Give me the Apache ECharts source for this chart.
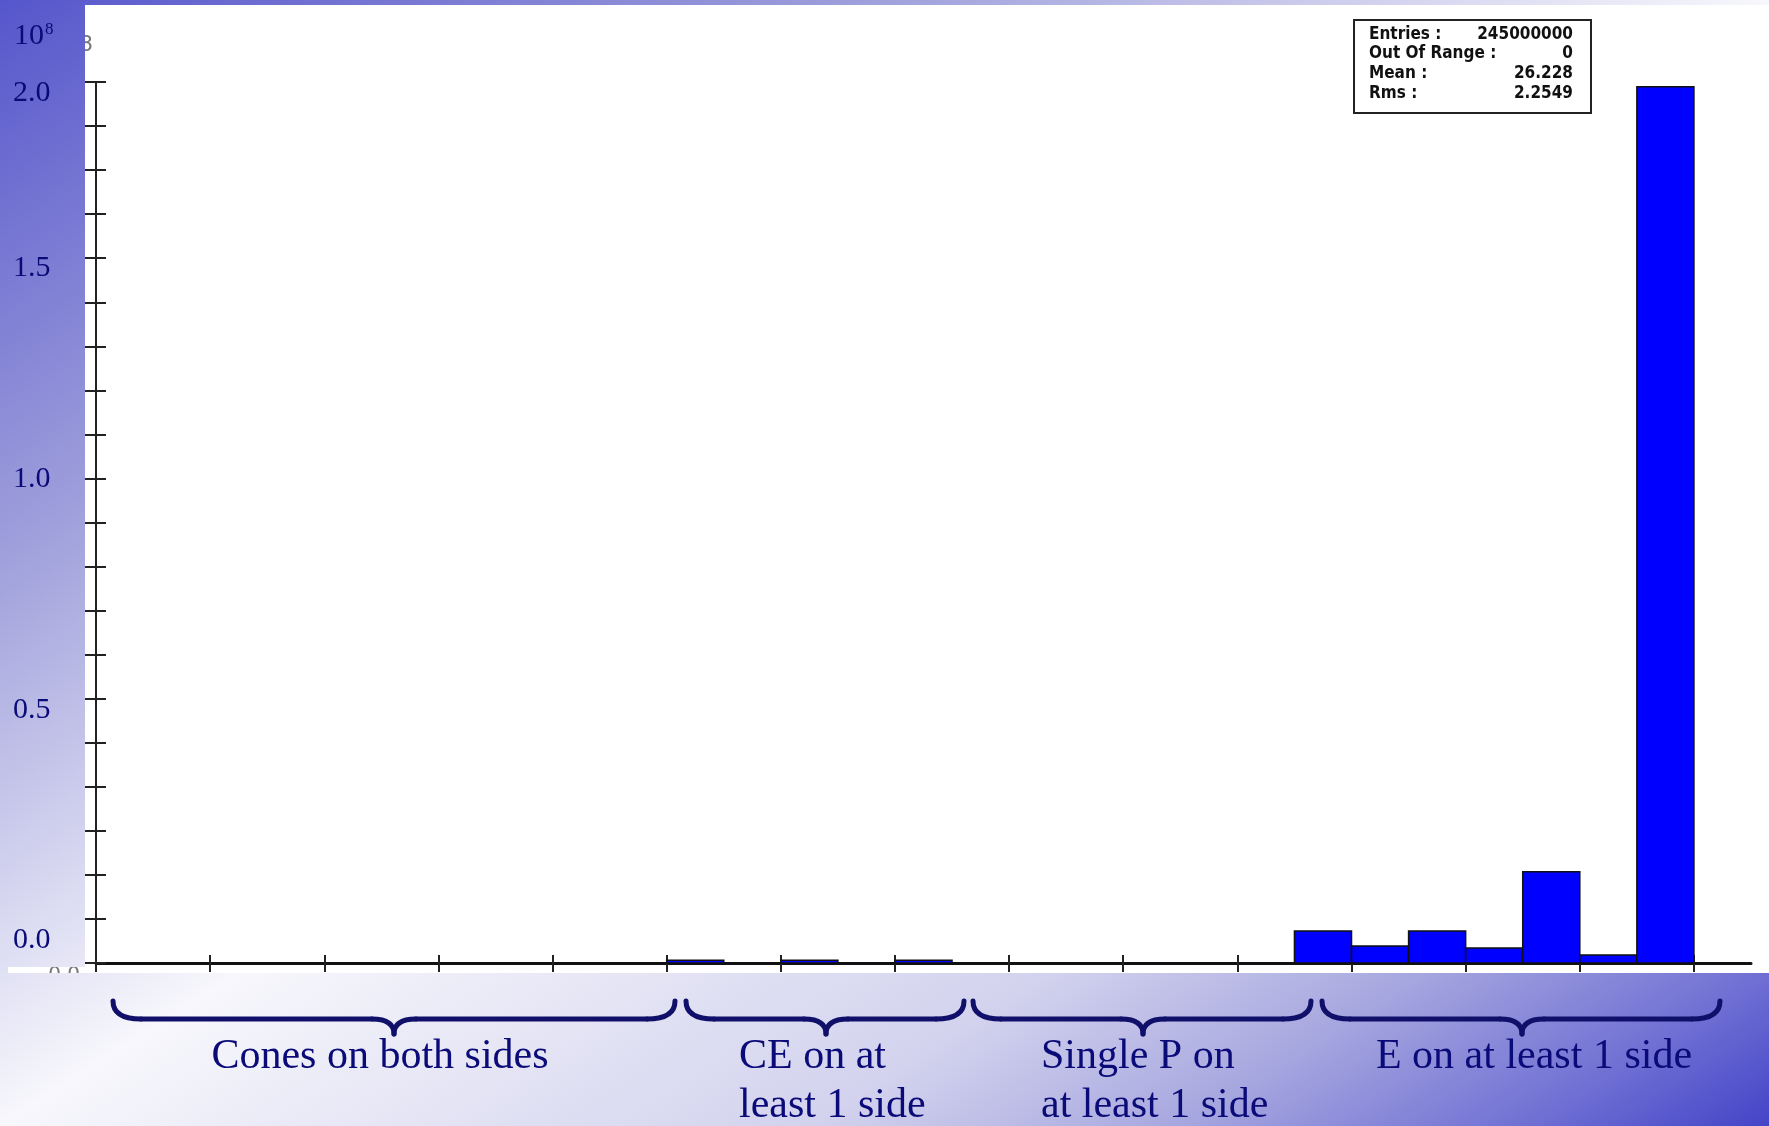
<!DOCTYPE html>
<html><head><meta charset="utf-8">
<script src="https://cdn.jsdelivr.net/npm/echarts@6/dist/echarts.min.js"></script>
<style>html,body{margin:0;padding:0;background:#fff;overflow:hidden}#c{width:1769px;height:1126px}</style>
</head><body><div id="c"></div>
<script>
// ---- data ----
const binStarts = [10, 12, 14, 21, 22, 23, 24, 25, 26, 27];
const binCounts = [600000, 600000, 600000, 7260000, 3860000, 7260000, 3400000, 20700000, 1800000, 198900000];
const xTicks = [0, 2, 4, 6, 8, 10, 12, 14, 16, 18, 20, 22, 24, 26, 28];
const yTicks = [0, 10000000, 20000000, 30000000, 40000000, 50000000, 60000000, 70000000, 80000000, 90000000,
  100000000, 110000000, 120000000, 130000000, 140000000, 150000000, 160000000, 170000000, 180000000, 190000000, 200000000];
const yLabelTexts = ['2.0', '1.5', '1.0', '0.5', '0.0'];
const yExponent = ['10', '8'];
const statsLabels = ['Entries :', 'Out Of Range :', 'Mean :', 'Rms :'];
const statsValues = ['245000000', '0', '26.228', '2.2549'];
const groupLabels = [['Cones on both sides'], ['CE on at', 'least 1 side'], ['Single P on', 'at least 1 side'], ['E on at least 1 side']];

// ---- layout ----
const W = 1769, H = 1126;
const navy = '#0a0a78';
const serif = '"Liberation Serif", "Times New Roman", serif';
const bgFill = {
  type: 'linear', x: 0, y: 0, x2: 1020, y2: 1603, global: true,
  colorStops: [
    {offset: 0, color: '#5656cc'}, {offset: 0.25, color: '#a0a0dc'}, {offset: 0.43, color: '#e0e0f4'},
    {offset: 0.5, color: '#f7f7fc'}, {offset: 0.73, color: '#d2d2ee'}, {offset: 0.83, color: '#a8a8e0'},
    {offset: 0.93, color: '#7070d4'}, {offset: 1, color: '#4444c8'}
  ]
};
function txt(text, x, y, font, fill, align, valign, z) {
  return {type: 'text', z: z, style: {text: text, x: x, y: y, font: font, fill: fill,
    align: align, textAlign: align, verticalAlign: valign, textVerticalAlign: valign}};
}
const els = [];
els.push({type: 'rect', z: -20, shape: {x: 0, y: 0, width: W, height: H}, style: {fill: bgFill}});
els.push({type: 'rect', z: -19, shape: {x: 8, y: 5, width: W - 8, height: 968}, style: {fill: '#ffffff'}});
els.push(txt('8', 79, 45, '22px "DejaVu Sans"', '#777', 'left', 'middle', -18));
els.push(txt('0.0', 80, 965, '20px "DejaVu Sans"', '#777', 'right', 'top', -18));
els.push({type: 'rect', z: -17, shape: {x: 0, y: 0, width: 85, height: 967}, style: {fill: bgFill}});
els.push({type: 'rect', z: -17, shape: {x: 0, y: 973, width: W, height: H - 973}, style: {fill: bgFill}});

// overlay y labels
const yLabelCenters = [93, 268, 479, 710, 940];
yLabelTexts.forEach((t, i) => els.push(txt(t, 13, yLabelCenters[i], '30px ' + serif, navy, 'left', 'middle', 50)));
els.push(txt(yExponent[0], 14, 36, '30px ' + serif, navy, 'left', 'middle', 50));
els.push(txt(yExponent[1], 45, 30, '17px ' + serif, navy, 'left', 'middle', 50));

// stats box
els.push({type: 'rect', z: 50, shape: {x: 1354, y: 20, width: 237, height: 93}, style: {fill: '#ffffff', stroke: '#222', lineWidth: 2}});
const statFont = 'bold 17px "DejaVu Sans Condensed", "Liberation Sans Narrow", "DejaVu Sans", sans-serif';
const statRows = [35, 54, 74, 94];
statsLabels.forEach((t, i) => {
  els.push(txt(t, 1369, statRows[i], statFont, '#111', 'left', 'middle', 51));
  els.push(txt(statsValues[i], 1573, statRows[i], statFont, '#111', 'right', 'middle', 51));
});

// braces (quadratic curves + lines)
const braces = [[113, 675, 394], [686, 964, 826], [973, 1311, 1143], [1322, 1720, 1522]];
const braceStyle = {fill: null, stroke: '#10106a', lineWidth: 5, lineCap: 'round', lineJoin: 'round'};
braces.forEach(b => {
  const [x1, x2, xm] = b, y0 = 1001, yb = 1019, yt = 1034, r = 28, r2 = 22;
  els.push({type: 'bezierCurve', z: 50, shape: {x1: x1, y1: y0, cpx1: x1, cpy1: yb, x2: x1 + r, y2: yb}, style: braceStyle});
  els.push({type: 'line', z: 50, shape: {x1: x1 + r, y1: yb, x2: xm - r2, y2: yb}, style: braceStyle});
  els.push({type: 'bezierCurve', z: 50, shape: {x1: xm - r2, y1: yb, cpx1: xm, cpy1: yb, x2: xm, y2: yt}, style: braceStyle});
  els.push({type: 'bezierCurve', z: 50, shape: {x1: xm, y1: yt, cpx1: xm, cpy1: yb, x2: xm + r2, y2: yb}, style: braceStyle});
  els.push({type: 'line', z: 50, shape: {x1: xm + r2, y1: yb, x2: x2 - r, y2: yb}, style: braceStyle});
  els.push({type: 'bezierCurve', z: 50, shape: {x1: x2 - r, y1: yb, cpx1: x2, cpy1: yb, x2: x2, y2: y0}, style: braceStyle});
});
// group labels
const groupPos = [[380, 'center'], [739, 'left'], [1041, 'left'], [1534, 'center']];
const lineY = [1057, 1106];
groupLabels.forEach((lines, i) => {
  lines.forEach((t, j) => els.push(txt(t, groupPos[i][0], lineY[j], '42px ' + serif, navy, groupPos[i][1], 'middle', 50)));
});

const axisCommon = {splitLine: {show: false}, axisLabel: {show: false}};
const chart = echarts.init(document.getElementById('c'), null, {renderer: 'canvas'});
chart.setOption({
  animation: false,
  backgroundColor: 'transparent',
  grid: {left: 96, top: 82, right: W - 1751, bottom: H - 963, containLabel: false},
  xAxis: [
    Object.assign({type: 'value', min: 0, max: 29, position: 'bottom',
      axisLine: {show: true, onZero: false, lineStyle: {color: '#111', width: 3}},
      axisTick: {show: true, inside: false, length: 9, customValues: xTicks, lineStyle: {color: '#222', width: 2}}}, axisCommon),
    Object.assign({type: 'value', min: 0, max: 29, position: 'bottom',
      axisLine: {show: false},
      axisTick: {show: true, inside: true, length: 8, customValues: xTicks, lineStyle: {color: '#222', width: 2}}}, axisCommon)
  ],
  yAxis: [
    Object.assign({type: 'value', min: 0, max: 200000000, position: 'left',
      axisLine: {show: true, onZero: false, lineStyle: {color: '#222', width: 2}},
      axisTick: {show: true, inside: false, length: 11, customValues: yTicks, lineStyle: {color: '#222', width: 2}}}, axisCommon),
    Object.assign({type: 'value', min: 0, max: 200000000, position: 'left',
      axisLine: {show: false},
      axisTick: {show: true, inside: true, length: 10, customValues: yTicks, lineStyle: {color: '#222', width: 2}}}, axisCommon)
  ],
  series: [{
    type: 'custom', xAxisIndex: 0, yAxisIndex: 0, clip: false, z: 3,
    data: binStarts.map((s, i) => [s, binCounts[i]]),
    encode: {x: 0, y: 1},
    renderItem: function (params, api) {
      const x0 = api.value(0), v = api.value(1);
      const p0 = api.coord([x0, 0]), p1 = api.coord([x0 + 1, v]);
      return {type: 'rect', shape: {x: p0[0], y: p1[1], width: p1[0] - p0[0], height: p0[1] - p1[1]},
        style: {fill: '#0000ff', stroke: '#111', lineWidth: 1.5}};
    }
  }],
  graphic: {elements: els}
});
</script>
</body></html>
